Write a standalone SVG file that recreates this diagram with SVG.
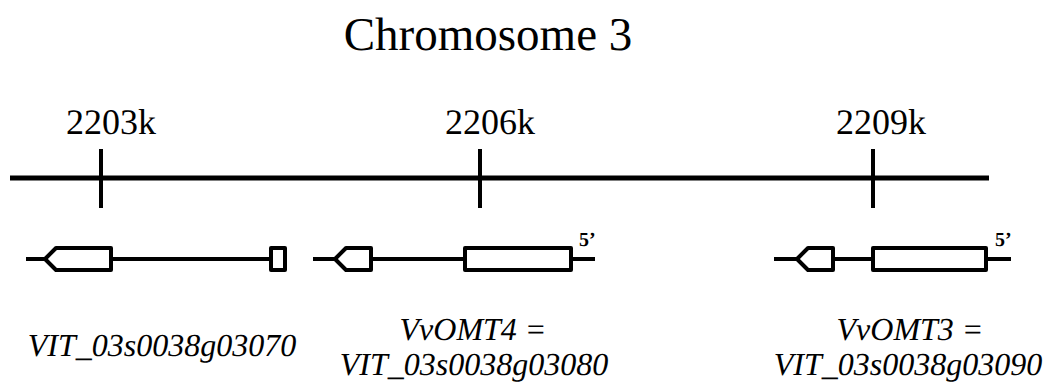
<svg xmlns="http://www.w3.org/2000/svg" width="1056" height="386" viewBox="0 0 1056 386">
<style>
text{font-family:'Liberation Serif',Tinos,'Times New Roman','DejaVu Serif',serif;fill:#000;text-rendering:geometricPrecision}
.title{font-size:47px}
.tk{font-size:36px}
.it{font-size:32px;font-style:italic}
.p5{font-size:20px;font-weight:bold}
.ln{stroke:#000;fill:none}
.ex{stroke:#000;stroke-width:4;fill:#fff;stroke-linejoin:round}
</style>
<rect width="1056" height="386" fill="#fff"/>
<text id="title" class="title" x="488" y="50" text-anchor="middle">Chromosome 3</text>
<g id="axis">
<line class="ln" x1="10" y1="178" x2="989" y2="178" stroke-width="5"/>
<line class="ln" x1="101" y1="149" x2="101" y2="208" stroke-width="4"/>
<line class="ln" x1="480" y1="149" x2="480" y2="208" stroke-width="4"/>
<line class="ln" x1="873" y1="149" x2="873" y2="208" stroke-width="4"/>
<text class="tk" x="111" y="134" text-anchor="middle">2203k</text>
<text class="tk" x="490" y="134" text-anchor="middle">2206k</text>
<text class="tk" x="881" y="134" text-anchor="middle">2209k</text>
</g>
<g id="gene1">
<line class="ln" x1="26" y1="259" x2="45" y2="259" stroke-width="4"/>
<line class="ln" x1="111" y1="259" x2="271" y2="259" stroke-width="4"/>
<polygon class="ex" points="45,259 56,248 111,248 111,270 56,270"/>
<rect class="ex" x="271" y="248" width="14" height="22"/>
<text class="it" x="162" y="356" text-anchor="middle">VIT_03s0038g03070</text>
</g>
<g id="gene2">
<line class="ln" x1="313" y1="259" x2="335" y2="259" stroke-width="4"/>
<line class="ln" x1="371" y1="259" x2="465" y2="259" stroke-width="4"/>
<line class="ln" x1="571" y1="259" x2="595" y2="259" stroke-width="4"/>
<polygon class="ex" points="335,259 346,248 371,248 371,270 346,270"/>
<rect class="ex" x="465" y="248" width="106" height="22"/>
<text class="p5" x="579" y="246">5’</text>
<text class="it" x="473" y="340" text-anchor="middle">VvOMT4 =</text>
<text class="it" x="474" y="375" text-anchor="middle">VIT_03s0038g03080</text>
</g>
<g id="gene3">
<line class="ln" x1="774" y1="259" x2="797" y2="259" stroke-width="4"/>
<line class="ln" x1="833" y1="259" x2="873" y2="259" stroke-width="4"/>
<line class="ln" x1="986" y1="259" x2="1011" y2="259" stroke-width="4"/>
<polygon class="ex" points="797,259 808,248 833,248 833,270 808,270"/>
<rect class="ex" x="873" y="248" width="113" height="22"/>
<text class="p5" x="995" y="246">5’</text>
<text class="it" x="910" y="340" text-anchor="middle">VvOMT3 =</text>
<text class="it" x="908" y="375" text-anchor="middle">VIT_03s0038g03090</text>
</g>
</svg>
